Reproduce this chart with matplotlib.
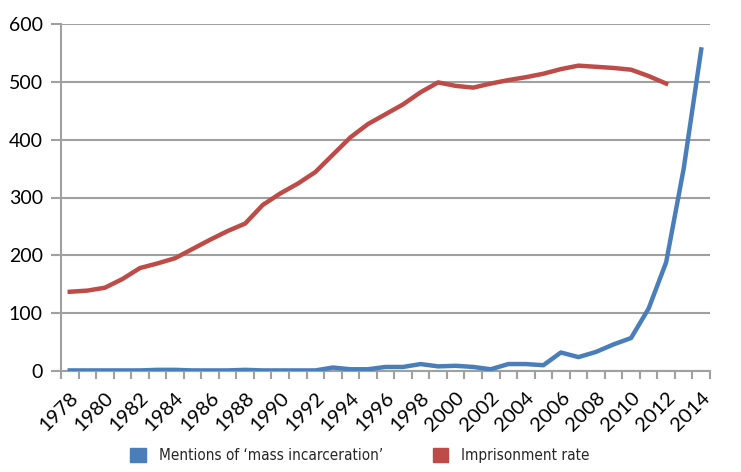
import matplotlib.pyplot as plt
from matplotlib.patches import Patch
import numpy as np

years = list(range(1978, 2015))
mentions = [1, 1, 1, 1, 1, 2, 2, 1, 1, 1, 2, 1, 1, 1, 1, 6, 3, 3, 7, 7,
            12, 8, 9, 7, 3, 12, 12, 10, 32, 24, 33, 46, 57, 108, 188, 350, 556]
imprisonment = [137, 139, 144, 159, 178, 186, 195, 211, 227, 242, 255, 287,
                307, 324, 344, 374, 404, 427, 444, 461, 482, 499, 493, 490,
                497, 503, 508, 514, 522, 528, 526, 524, 521, 510, 497]
labels = ["Mentions of \u2018mass incarceration\u2019", "Imprisonment rate"]
blue = "#4A7EBB"
red = "#BE4B48"
grid_col = "#A0A0A0"

fig = plt.figure(figsize=(7.41, 4.72), dpi=100)
ax = fig.add_axes([61 / 741, 1 - 371 / 472, 649 / 741, 347 / 472])

x = np.arange(len(years))
ax.plot(x[:len(imprisonment)], imprisonment, color=red, lw=3.2, solid_joinstyle="round", zorder=3)
ax.plot(x, mentions, color=blue, lw=3.2, solid_joinstyle="round", zorder=4)

ax.set_xlim(-0.5, len(years) - 0.5)
ax.set_ylim(0, 600)
ax.set_yticks(range(0, 601, 100))
ax.yaxis.grid(True, color=grid_col, lw=1.5)
ax.set_axisbelow(True)

ax.set_xticks(np.arange(-0.5, len(years), 1), minor=True)
ax.set_xticks(x[::2])
ax.set_xticklabels([str(y) for y in years[::2]], rotation=45, ha="right",
                   rotation_mode="anchor", family="Lato", fontsize=14.5)
ax.tick_params(axis="x", which="major", length=0, pad=13)
ax.tick_params(axis="x", which="minor", length=6, width=1.5, color=grid_col)
ax.tick_params(axis="y", length=7, width=1.5, color=grid_col, pad=6)
for t in ax.get_yticklabels():
    t.set_family("Lato")
    t.set_fontsize(14)

for s in ["top", "right"]:
    ax.spines[s].set_visible(False)
for s in ["left", "bottom"]:
    ax.spines[s].set_color(grid_col)
    ax.spines[s].set_linewidth(1.5)

handles = [Patch(color=blue), Patch(color=red)]
leg = fig.legend(handles, labels, loc="center", bbox_to_anchor=(0.486, 0.035), ncol=2,
                 frameon=False, handlelength=1.0, handleheight=1.0, columnspacing=3.3,
                 handletextpad=0.85,
                 prop={"family": "DejaVu Sans", "stretch": "condensed", "size": 11})
for t in leg.get_texts():
    t.set_color("#262626")

fig.savefig("out.png", dpi=100)
